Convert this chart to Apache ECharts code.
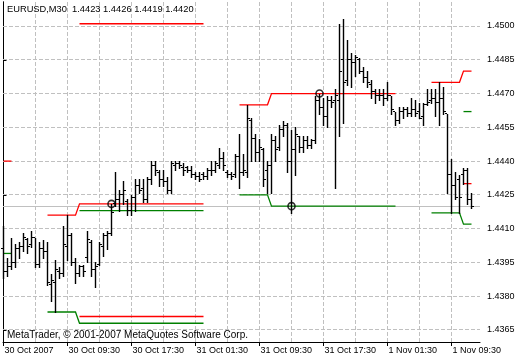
<!DOCTYPE html>
<html><head><meta charset="utf-8">
<script src="https://cdn.jsdelivr.net/npm/echarts@6/dist/echarts.min.js"></script>
<style>html,body{margin:0;padding:0;background:#fff}#c{width:520px;height:360px}</style>
</head><body><div id="c"></div>
<script>
// ---- data ----
const symbolName = 'EURUSD,M30';
const copyrightText = 'MetaTrader, © 2001-2007 MetaQuotes Software Corp.';
const timeLabels = ['30 Oct 2007','30 Oct 09:30','30 Oct 17:30','31 Oct 01:30','31 Oct 09:30','31 Oct 17:30','1 Nov 01:30','1 Nov 09:30'];
const timeLabelBars = [0,16,32,48,64,80,96,112];
const gridBars = [8,16,24,32,40,48,56,64,72,80,88,96,104,112];
const priceTicks = [1.4365,1.4380,1.4395,1.4410,1.4425,1.4440,1.4455,1.4470,1.4485,1.4500];
const lastPrice = 1.4420;
// [open, high, low, close] per M30 bar
const ohlc = [
[1.4401,1.4411,1.4388,1.4391],[1.4391,1.4397,1.4389,1.4393],[1.4393,1.4406,1.4392,1.4395],[1.4395,1.4403,1.4393,1.4401],
[1.4401,1.4404,1.4397,1.4402],[1.4402,1.4408,1.4400,1.4406],[1.4405,1.4406,1.4399,1.4402],[1.4403,1.4409,1.4402,1.4406],
[1.4406,1.4406,1.4393,1.4394],[1.4394,1.4404,1.4393,1.4401],[1.4401,1.4405,1.4397,1.4400],[1.4400,1.4404,1.4385,1.4386],
[1.4385,1.4390,1.4378,1.4387],[1.4386,1.4396,1.4373,1.4392],[1.4391,1.4393,1.4388,1.4390],[1.4390,1.4411,1.4389,1.4403],
[1.4402,1.4416,1.4396,1.4407],[1.4407,1.4408,1.4394,1.4395],[1.4395,1.4397,1.4386,1.4390],[1.4390,1.4394,1.4389,1.4393],
[1.4393,1.4394,1.4389,1.4391],[1.4397,1.4409,1.4395,1.4405],[1.4404,1.4405,1.4389,1.4392],[1.4392,1.4395,1.4384,1.4393],
[1.4394,1.4404,1.4394,1.4403],[1.4402,1.4408,1.4398,1.4407],[1.4407,1.4409,1.4401,1.4408],[1.4408,1.4421,1.4407,1.4417],
[1.4421,1.4435,1.4420,1.4423],[1.4423,1.4427,1.4418,1.4425],[1.4425,1.4431,1.4421,1.4427],[1.4422,1.4423,1.4416,1.4418],
[1.4418,1.4425,1.4416,1.4424],[1.4424,1.4432,1.4418,1.4429],[1.4429,1.4432,1.4426,1.4427],[1.4428,1.4432,1.4422,1.4423],
[1.4423,1.4433,1.4422,1.4432],[1.4432,1.4440,1.4430,1.4438],[1.4438,1.4440,1.4434,1.4436],[1.4435,1.4436,1.4429,1.4432],
[1.4432,1.4436,1.4429,1.4431],[1.4431,1.4433,1.4426,1.4427],[1.4427,1.4440,1.4426,1.4439],[1.4438,1.4440,1.4436,1.4439],
[1.4439,1.4440,1.4437,1.4438],[1.4437,1.4439,1.4434,1.4436],[1.4437,1.4438,1.4435,1.4436],[1.4436,1.4438,1.4433,1.4434],
[1.4434,1.4435,1.4432,1.4433],[1.4433,1.4435,1.4431,1.4432],[1.4434,1.4435,1.4432,1.4433],[1.4433,1.4437,1.4432,1.4436],
[1.4436,1.4440,1.4434,1.4436],[1.4436,1.4440,1.4435,1.4439],[1.4438,1.4446,1.4437,1.4441],[1.4441,1.4444,1.4436,1.4438],
[1.4435,1.4436,1.4433,1.4434],[1.4434,1.4435,1.4432,1.4433],[1.4434,1.4443,1.4433,1.4442],[1.4442,1.4452,1.4428,1.4435],
[1.4435,1.4443,1.4434,1.4436],[1.4435,1.4465,1.4433,1.4459],[1.4458,1.4459,1.4440,1.4450],[1.4450,1.4452,1.4440,1.4444],
[1.4444,1.4450,1.4440,1.4446],[1.4445,1.4446,1.4429,1.4432],[1.4436,1.4440,1.4426,1.4438],[1.4438,1.4452,1.4426,1.4449],
[1.4449,1.4451,1.4440,1.4445],[1.4446,1.4456,1.4445,1.4454],[1.4454,1.4458,1.4451,1.4456],[1.4456,1.4457,1.4435,1.4440],
[1.4440,1.4454,1.4417,1.4445],[1.4445,1.4455,1.4434,1.4452],[1.4451,1.4451,1.4444,1.4446],[1.4446,1.4451,1.4444,1.4449],
[1.4449,1.4451,1.4446,1.4447],[1.4447,1.4450,1.4446,1.4449],[1.4449,1.4469,1.4448,1.4467],[1.4467,1.4470,1.4461,1.4464],
[1.4464,1.4468,1.4456,1.4460],[1.4460,1.4469,1.4455,1.4467],[1.4467,1.4469,1.4464,1.4466],[1.4467,1.4472,1.4428,1.4469],
[1.4467,1.4501,1.4451,1.4480],[1.4485,1.4503,1.4457,1.4475],[1.4476,1.4494,1.4474,1.4485],[1.4485,1.4488,1.4473,1.4484],
[1.4484,1.4487,1.4478,1.4486],[1.4485,1.4486,1.4479,1.4480],[1.4480,1.4482,1.4475,1.4477],[1.4477,1.4480,1.4473,1.4475],
[1.4474,1.4476,1.4468,1.4471],[1.4471,1.4472,1.4466,1.4469],[1.4469,1.4472,1.4467,1.4469],[1.4469,1.4472,1.4465,1.4468],
[1.4468,1.4475,1.4467,1.4469],[1.4469,1.4469,1.4461,1.4463],[1.4462,1.4462,1.4456,1.4458],[1.4458,1.4464,1.4457,1.4462],
[1.4462,1.4464,1.4459,1.4463],[1.4463,1.4464,1.4460,1.4461],[1.4461,1.4468,1.4460,1.4463],[1.4463,1.4467,1.4460,1.4461],
[1.4462,1.4466,1.4459,1.4459],[1.4460,1.4466,1.4456,1.4465],[1.4465,1.4472,1.4465,1.4466],[1.4467,1.4472,1.4466,1.4468],
[1.4468,1.4472,1.4460,1.4466],[1.4466,1.4475,1.4456,1.4468],[1.4468,1.4473,1.4461,1.4462],[1.4461,1.4461,1.4426,1.4434],
[1.4434,1.4441,1.4417,1.4429],[1.4429,1.4435,1.4423,1.4424],[1.4432,1.4434,1.4417,1.4424],[1.4434,1.4437,1.4430,1.4436],
[1.4436,1.4437,1.4421,1.4423],[1.4423,1.4426,1.4419,1.4420]
];
// indicator level segments: [barIndex, price]
const redLevels = [
  [[0,1.4440],[2,1.4440]],
  [[11,1.4416],[18,1.4416],[19,1.4421],[50,1.4421]],
  [[19,1.4501],[50,1.4501]],
  [[19,1.4371],[50,1.4371]],
  [[59,1.4465],[66,1.4465],[67,1.4470],[98,1.4470]],
  [[107,1.4475],[114,1.4475],[115,1.4480],[117,1.4480]],
  [[115,1.4430],[117,1.4430]]
];
const greenLevels = [
  [[0,1.4399],[2,1.4399]],
  [[11,1.4373],[18,1.4373],[19,1.4368],[50,1.4368]],
  [[19,1.4418],[50,1.4418]],
  [[59,1.4425],[66,1.4425],[67,1.4420],[98,1.4420]],
  [[107,1.4417],[114,1.4417],[115,1.4412],[117,1.4412]],
  [[115,1.4462],[117,1.4462]]
];
const signalMarks = [[27,1.4421],[72,1.4420],[79,1.4470]];

// ---- chart ----
const FONT = 'Liberation Sans, Arial, sans-serif';
const chart = echarts.init(document.getElementById('c'), null, {renderer:'canvas'});
const last = ohlc[ohlc.length-1];
const yMin = 1.435967, yMax = 1.451066;
const crisp = v => Math.round(v - 0.5) + 0.5;

function renderBar(params, api){
  const i = api.value(0);
  const ph = api.coord([i, api.value(2)]);
  const x = crisp(ph[0]);
  const yh = Math.round(ph[1]);
  const yl = Math.round(api.coord([i, api.value(3)])[1]) + 1;
  const yo = crisp(api.coord([i, api.value(1)])[1]);
  const yc = crisp(api.coord([i, api.value(4)])[1]);
  const st = {stroke:'#000', lineWidth:1};
  return {type:'group', children:[
    {type:'line', shape:{x1:x,y1:yh,x2:x,y2:yl}, style:{stroke:'#000', lineWidth:1.4}},
    {type:'line', shape:{x1:x-2.5,y1:yo,x2:x-0.5,y2:yo}, style:st},
    {type:'line', shape:{x1:x+0.5,y1:yc,x2:x+2.5,y2:yc}, style:st}
  ]};
}
function renderHLine(dash, color){
  return function(params, api){
    const cs = params.coordSys;
    const y = crisp(api.coord([0, api.value(1)])[1]);
    return {type:'line', shape:{x1:cs.x, y1:y, x2:cs.x+cs.width, y2:y},
      style:{stroke:color, lineWidth:1, lineDash:dash}};
  };
}
function renderVLine(params, api){
  const cs = params.coordSys;
  const x = crisp(api.coord([api.value(0), api.value(1)])[0]);
  return {type:'line', shape:{x1:x, y1:cs.y, x2:x, y2:cs.y+cs.height},
    style:{stroke:'#c0c0c0', lineWidth:1, lineDash:[4,2]}};
}
function renderLevels(group, color){
  return function(params, api){
    const seg = group[params.dataIndex];
    const points = seg.map(p => api.coord(p));
    return {type:'polyline', shape:{points:points},
      style:{stroke:color, lineWidth:1.3, fill:'none'}};
  };
}

const series = [
  {type:'custom', renderItem:renderHLine([4,2], '#c0c0c0'), silent:true, z:1, animation:false,
   data:priceTicks.map(v=>[0, v]), encode:{x:0, y:1}},
  {type:'custom', renderItem:renderVLine, silent:true, z:1, animation:false,
   data:gridBars.map(b=>[b, priceTicks[0]]), encode:{x:0, y:1}},
  {type:'custom', renderItem:renderHLine(null, '#c0c0c0'), silent:true, z:2, animation:false,
   data:[[0, lastPrice]], encode:{x:0, y:1},
   markLine:{silent:true, animation:false, precision:4, symbol:['none','none'],
     lineStyle:{opacity:0},
     label:{show:true, position:'end', distance:2, formatter:p=>Number(p.value).toFixed(4),
       color:'#fff', backgroundColor:'#000', padding:[1,4,0,4], fontSize:9, fontFamily:FONT},
     data:[{yAxis:lastPrice}]}},
  {type:'custom', renderItem:renderLevels(redLevels, '#ff0000'), silent:true, z:4, animation:false,
   data:redLevels.map(seg=>seg[0]), encode:{x:0, y:1}},
  {type:'custom', renderItem:renderLevels(greenLevels, '#008000'), silent:true, z:4, animation:false,
   data:greenLevels.map(seg=>seg[0]), encode:{x:0, y:1}},
  {type:'custom', renderItem:renderBar, z:5, animation:false, silent:true,
   data:ohlc.map((d,i)=>[i, d[0], d[1], d[2], d[3]]), encode:{x:0, y:[1,2,3,4]}},
  {type:'scatter', data:signalMarks, symbol:'circle', symbolSize:7, silent:true, z:6, animation:false,
   itemStyle:{color:'rgba(0,0,0,0)', borderColor:'#000', borderWidth:1.6}}
];

chart.setOption({
  backgroundColor:'#fff',
  animation:false,
  title:[
    {text: symbolName + '  ' + last.map(v=>v.toFixed(4)).join(' '), left:7, top:5, padding:0,
     textStyle:{fontSize:9.3, fontWeight:'normal', color:'#000', fontFamily:FONT}},
    {text: copyrightText, left:7, top:330, padding:0,
     textStyle:{fontSize:10, fontWeight:'normal', color:'#000', fontFamily:FONT}}
  ],
  grid:{left:3, right:40, top:2, bottom:18, containLabel:false, outerBoundsMode:'none'},
  xAxis:{type:'value', min:-0.125, max:119.125, splitLine:{show:false},
    axisLine:{show:true, lineStyle:{color:'#000', width:1}},
    axisTick:{show:true, length:4, lineStyle:{color:'#000'}, customValues:timeLabelBars},
    axisLabel:{customValues:timeLabelBars, align:'left', margin:4, padding:[0,0,0,1],
      formatter:v=>timeLabels[timeLabelBars.indexOf(v)], fontSize:9, color:'#000', fontFamily:FONT}},
  yAxis:[
    {type:'value', position:'right', min:yMin, max:yMax, scale:true, splitLine:{show:false},
     axisLine:{show:true, lineStyle:{color:'#000', width:1}},
     axisTick:{show:true, length:3, lineStyle:{color:'#000'}, customValues:priceTicks},
     axisLabel:{customValues:priceTicks, margin:7, formatter:v=>v.toFixed(4), fontSize:9, color:'#000', fontFamily:FONT}},
    {type:'value', position:'left', min:yMin, max:yMax, scale:true, splitLine:{show:false},
     axisLine:{show:true, lineStyle:{color:'#000', width:1}}, axisTick:{show:false}, axisLabel:{show:false}}
  ],
  series: series
});
</script>
</body></html>
